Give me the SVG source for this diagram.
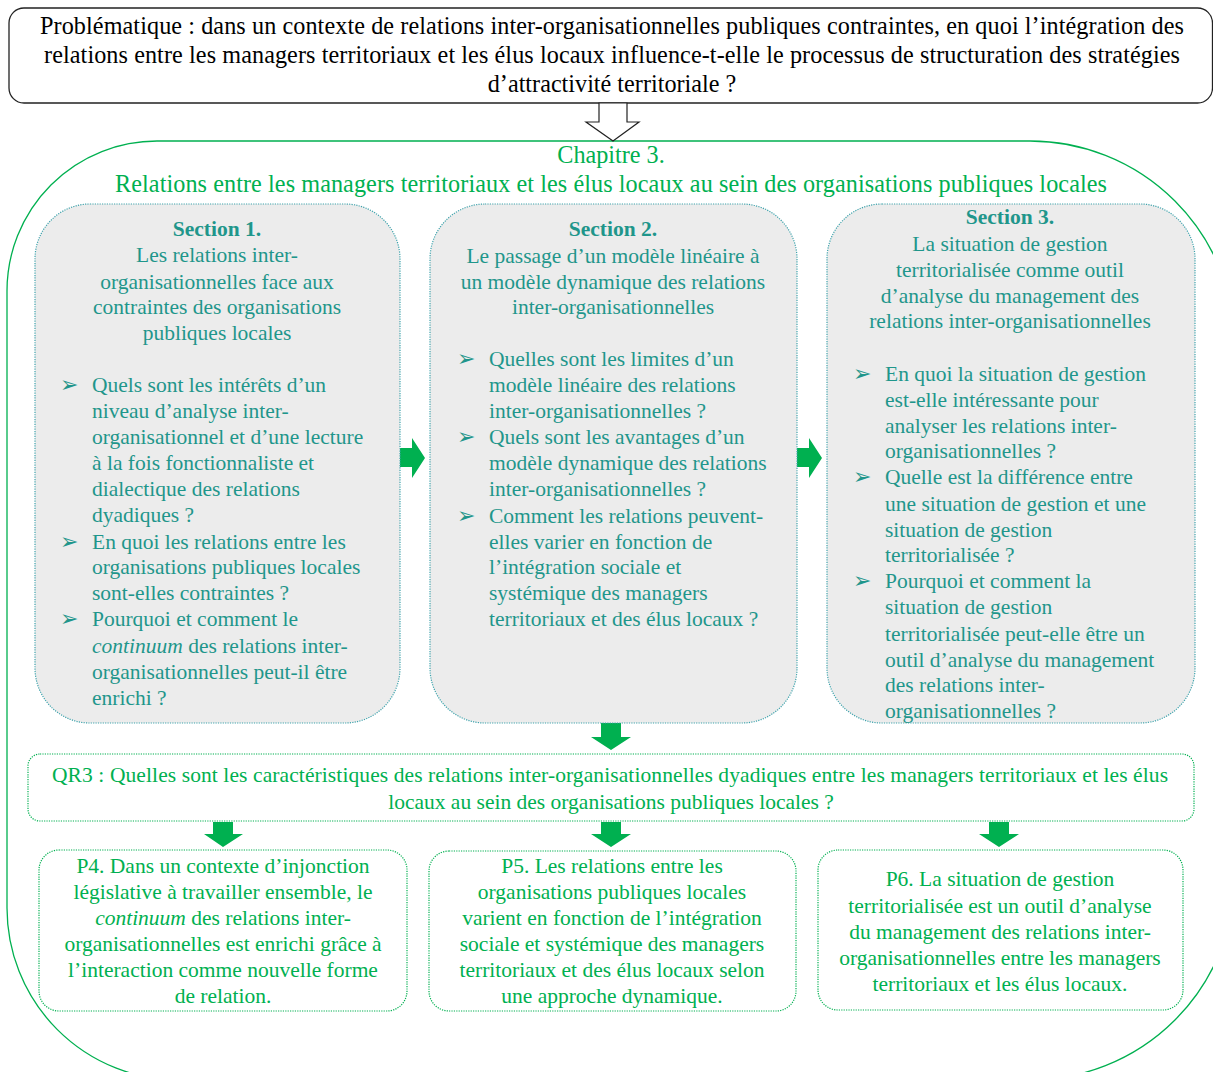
<svg xmlns="http://www.w3.org/2000/svg" width="1213" height="1072" viewBox="0 0 1213 1072">
<style>
text{font-family:"Liberation Serif","Times New Roman",serif}
.top{font-size:24.2px;fill:#000}
.ch{font-size:24.2px;fill:#00B050}
.s{font-size:21.5px;fill:#1F968B}
.g{font-size:21.5px;fill:#00B050}
.c{text-anchor:middle}
.bold{font-weight:bold}
.bu{font-family:"DejaVu Sans",sans-serif;font-size:22px;fill:#1F968B}
.sec{fill:#ECECEC;stroke:#3FA3AC;stroke-width:1.2;stroke-dasharray:1.2 1.2}
.gbox{fill:#fff;stroke:#00B050;stroke-width:1.2;stroke-dasharray:1.2 1.2}
.garrow{fill:#00B050}
</style>
<rect width="1213" height="1072" fill="#fff"/>

<g id="problematique">
<rect x="9" y="8" width="1203.5" height="95" rx="15" fill="#fff" stroke="#222" stroke-width="1.3"/>
<text class="top" x="40" y="34" textLength="1144" lengthAdjust="spacing">Problématique : dans un contexte de relations inter-organisationnelles publiques contraintes, en quoi l’intégration des</text>
<text class="top" x="44" y="63" textLength="1136" lengthAdjust="spacing">relations entre les managers territoriaux et les élus locaux influence-t-elle le processus de structuration des stratégies</text>
<text class="top c" x="612" y="92">d’attractivité territoriale ?</text>
</g>

<g id="chapitre">
<path d="M157 141 H1030 A205 205 0 0 1 1235 346 V875 A205 205 0 0 1 1030 1080 H179 A172 172 0 0 1 7 908 V291 A150 150 0 0 1 157 141 Z" fill="none" stroke="#00B050" stroke-width="1.3"/>
<text class="ch c" x="611" y="163">Chapitre 3.</text>
<text class="ch" x="115" y="192" textLength="992" lengthAdjust="spacing">Relations entre les managers territoriaux et les élus locaux au sein des organisations publiques locales</text>
</g>

<g id="connectors">
<polygon points="599,103 627,103 627,122 639,122 613,141 586,122 599,122" fill="#fff" stroke="#222" stroke-width="1.2"/>
<polygon class="garrow" points="400,448 412,448 412,438 425,458 412,478 412,467 400,467"/>
<polygon class="garrow" points="797,448 809,448 809,438 822,458 809,478 809,467 797,467"/>
<polygon class="garrow" points="601,723 621,723 621,737 631,737 611,750 591,737 601,737"/>
<polygon class="garrow" points="213,822 233,822 233,834 243,834 223,847 204,834 213,834"/>
<polygon class="garrow" points="601,822 621,822 621,834 631,834 611,847 591,834 601,834"/>
<polygon class="garrow" points="989,822 1009,822 1009,834 1019,834 999,847 979,834 989,834"/>
</g>

<g id="section1">
<rect class="sec" x="35" y="204" width="365" height="519" rx="55"/>
<text class="s c bold" x="217" y="236">Section 1.</text>
<text class="s c" x="217" y="262">Les relations  inter-</text>
<text class="s c" x="217" y="289">organisationnelles  face aux</text>
<text class="s c" x="217" y="314">contraintes  des organisations</text>
<text class="s c" x="217" y="340">publiques locales</text>
<text class="bu" x="60" y="392">➢</text>
<text class="bu" x="60" y="549">➢</text>
<text class="bu" x="60" y="626">➢</text>
<text class="s" x="92" y="392">Quels sont les intérêts d’un</text>
<text class="s" x="92" y="418">niveau d’analyse inter-</text>
<text class="s" x="92" y="444">organisationnel  et d’une lecture</text>
<text class="s" x="92" y="470">à la fois fonctionnaliste  et</text>
<text class="s" x="92" y="496">dialectique  des relations</text>
<text class="s" x="92" y="522">dyadiques ?</text>
<text class="s" x="92" y="549">En quoi les relations  entre les</text>
<text class="s" x="92" y="574">organisations  publiques locales</text>
<text class="s" x="92" y="600">sont-elles  contraintes  ?</text>
<text class="s" x="92" y="626">Pourquoi et comment  le</text>
<text class="s" x="92" y="653"><tspan font-style="italic">continuum</tspan> des relations  inter-</text>
<text class="s" x="92" y="679">organisationnelles  peut-il être</text>
<text class="s" x="92" y="705">enrichi  ?</text>
</g>

<g id="section2">
<rect class="sec" x="430" y="204" width="367" height="519" rx="55"/>
<text class="s c bold" x="613" y="236">Section 2.</text>
<text class="s c" x="613" y="263">Le passage d’un modèle linéaire  à</text>
<text class="s c" x="613" y="289">un modèle dynamique  des relations</text>
<text class="s c" x="613" y="314">inter-organisationnelles</text>
<text class="bu" x="457" y="366">➢</text>
<text class="bu" x="457" y="444">➢</text>
<text class="bu" x="457" y="523">➢</text>
<text class="s" x="489" y="366">Quelles sont les limites  d’un</text>
<text class="s" x="489" y="392">modèle linéaire  des relations</text>
<text class="s" x="489" y="418">inter-organisationnelles  ?</text>
<text class="s" x="489" y="444">Quels sont les avantages d’un</text>
<text class="s" x="489" y="470">modèle dynamique  des relations</text>
<text class="s" x="489" y="496">inter-organisationnelles  ?</text>
<text class="s" x="489" y="523">Comment les relations  peuvent-</text>
<text class="s" x="489" y="549">elles varier en fonction de</text>
<text class="s" x="489" y="574">l’intégration  sociale et</text>
<text class="s" x="489" y="600">systémique  des managers</text>
<text class="s" x="489" y="626">territoriaux  et des élus locaux ?</text>
</g>

<g id="section3">
<rect class="sec" x="827" y="204" width="368" height="519" rx="55"/>
<text class="s c bold" x="1010" y="224">Section 3.</text>
<text class="s c" x="1010" y="251">La situation  de gestion</text>
<text class="s c" x="1010" y="277">territorialisée  comme outil</text>
<text class="s c" x="1010" y="303">d’analyse  du management  des</text>
<text class="s c" x="1010" y="328">relations  inter-organisationnelles</text>
<text class="bu" x="853" y="381">➢</text>
<text class="bu" x="853" y="484">➢</text>
<text class="bu" x="853" y="588">➢</text>
<text class="s" x="885" y="381">En quoi la situation  de gestion</text>
<text class="s" x="885" y="407">est-elle  intéressante  pour</text>
<text class="s" x="885" y="433">analyser les relations  inter-</text>
<text class="s" x="885" y="458">organisationnelles  ?</text>
<text class="s" x="885" y="484">Quelle est la différence  entre</text>
<text class="s" x="885" y="511">une situation  de gestion et une</text>
<text class="s" x="885" y="537">situation  de gestion</text>
<text class="s" x="885" y="562">territorialisée  ?</text>
<text class="s" x="885" y="588">Pourquoi et comment  la</text>
<text class="s" x="885" y="614">situation  de gestion</text>
<text class="s" x="885" y="641">territorialisée  peut-elle  être un</text>
<text class="s" x="885" y="667">outil  d’analyse du management</text>
<text class="s" x="885" y="692">des relations  inter-</text>
<text class="s" x="885" y="718">organisationnelles  ?</text>
</g>

<g id="qr3">
<rect class="gbox" x="28" y="754" width="1166" height="67" rx="12"/>
<text class="g" x="52" y="782" textLength="1116" lengthAdjust="spacing">QR3 : Quelles sont les caractéristiques  des relations inter-organisationnelles  dyadiques entre les managers territoriaux  et les élus</text>
<text class="g c" x="611" y="809">locaux au sein des organisations  publiques locales ?</text>
</g>

<g id="p4">
<rect class="gbox" x="39" y="850" width="368" height="161" rx="20"/>
<text class="g c" x="223" y="873">P4. Dans un contexte d’injonction</text>
<text class="g c" x="223" y="899">législative  à travailler  ensemble, le</text>
<text class="g c" x="223" y="925"><tspan font-style="italic">continuum</tspan> des relations  inter-</text>
<text class="g c" x="223" y="951">organisationnelles  est enrichi grâce à</text>
<text class="g c" x="223" y="977">l’interaction  comme nouvelle forme</text>
<text class="g c" x="223" y="1003">de relation.</text>
</g>

<g id="p5">
<rect class="gbox" x="429" y="851" width="367" height="160" rx="20"/>
<text class="g c" x="612" y="873">P5. Les relations  entre  les</text>
<text class="g c" x="612" y="899">organisations  publiques locales</text>
<text class="g c" x="612" y="925">varient en fonction de l’intégration</text>
<text class="g c" x="612" y="951">sociale et systémique  des managers</text>
<text class="g c" x="612" y="977">territoriaux  et des élus locaux selon</text>
<text class="g c" x="612" y="1003">une approche dynamique.</text>
</g>

<g id="p6">
<rect class="gbox" x="818" y="850" width="365" height="160" rx="20"/>
<text class="g c" x="1000" y="886">P6. La situation  de gestion</text>
<text class="g c" x="1000" y="913">territorialisée  est un outil d’analyse</text>
<text class="g c" x="1000" y="939">du management des relations  inter-</text>
<text class="g c" x="1000" y="965">organisationnelles  entre les managers</text>
<text class="g c" x="1000" y="991">territoriaux  et les élus locaux.</text>
</g>
</svg>
